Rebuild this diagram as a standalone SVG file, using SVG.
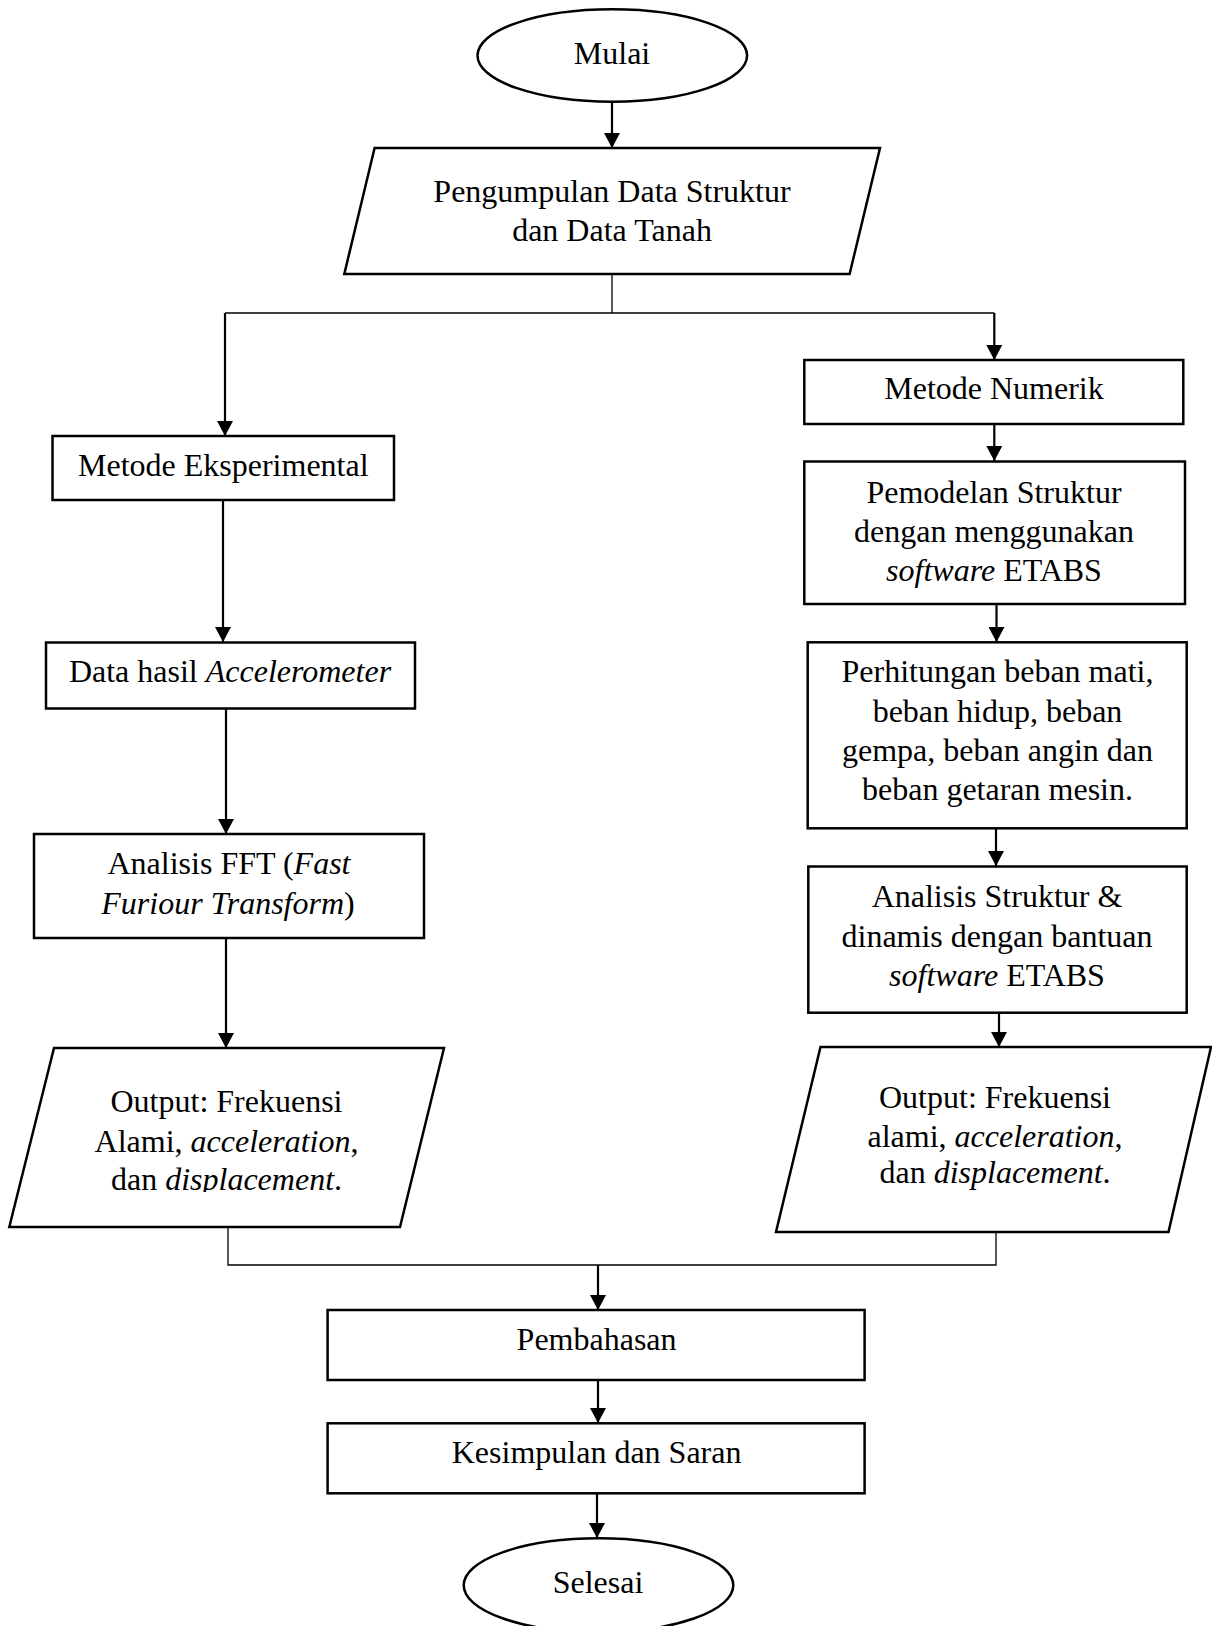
<svg xmlns="http://www.w3.org/2000/svg" width="1212" height="1626" viewBox="0 0 1212 1626">
<style>
.shape{fill:#fff;stroke:#000;stroke-width:2.5}
.arrow{fill:none;stroke:#000;stroke-width:2.2;marker-end:url(#ah)}
.line{fill:none;stroke:#000;stroke-width:1.3}
text{font-family:"Liberation Serif","Times New Roman",serif;font-size:32px;fill:#000;text-anchor:middle}
.i{font-style:italic}
</style>
<defs>
<marker id="ah" markerUnits="userSpaceOnUse" markerWidth="16" markerHeight="16" refX="15" refY="8" orient="auto">
<path d="M0,0 L15,8 L0,16 z" fill="#000"/>
</marker>
<clipPath id="clipOutL"><rect x="0" y="1040" width="460" height="152"/></clipPath>
</defs>
<rect width="1212" height="1626" fill="#fff"/>
<g id="connectors">
<line class="arrow" x1="612" y1="102" x2="612" y2="148"/>
<polyline class="line" points="612,274 612,313"/>
<polyline class="line" points="225,313 994.3,313"/>
<line class="arrow" x1="225" y1="313" x2="225" y2="436"/>
<line class="arrow" x1="994.3" y1="313" x2="994.3" y2="360"/>
<line class="arrow" x1="223" y1="500" x2="223" y2="642"/>
<line class="arrow" x1="226" y1="709" x2="226" y2="834"/>
<line class="arrow" x1="226" y1="938" x2="226" y2="1048"/>
<line class="arrow" x1="994.3" y1="424" x2="994.3" y2="461"/>
<line class="arrow" x1="996.5" y1="604" x2="996.5" y2="642"/>
<line class="arrow" x1="996" y1="828" x2="996" y2="866"/>
<line class="arrow" x1="999" y1="1013" x2="999" y2="1047"/>
<polyline class="line" points="228,1227 228,1265 996,1265 996,1232"/>
<line class="arrow" x1="598" y1="1265" x2="598" y2="1310"/>
<line class="arrow" x1="598" y1="1380" x2="598" y2="1423"/>
<line class="arrow" x1="597" y1="1493" x2="597" y2="1538"/>
</g>
<g id="mulai">
<ellipse class="shape" cx="612.3" cy="55.5" rx="134.8" ry="46.2"/>
<text x="612" y="64">Mulai</text>
</g>
<g id="pengumpulan">
<polygon class="shape" points="374.6,148 880,148 849.6,274 344.3,274"/>
<text x="612" y="201.5">Pengumpulan Data Struktur</text>
<text x="612" y="240.5">dan Data Tanah</text>
</g>
<g id="eksperimental">
<rect class="shape" x="52.5" y="436" width="341.5" height="64"/>
<text x="223.3" y="475.5">Metode Eksperimental</text>
</g>
<g id="accelerometer">
<rect class="shape" x="46" y="642.5" width="369" height="66"/>
<text x="230" y="682">Data hasil <tspan class="i">Accelerometer</tspan></text>
</g>
<g id="fft">
<rect class="shape" x="34" y="834" width="390" height="104"/>
<text x="229" y="874">Analisis FFT (<tspan class="i">Fast</tspan></text>
<text x="228" y="914"><tspan class="i">Furiour Transform</tspan>)</text>
</g>
<g id="output-eksperimental">
<polygon class="shape" points="54,1048 444,1048 400,1227 9.3,1227"/>
<text x="226.5" y="1111.5">Output: Frekuensi</text>
<text x="226.5" y="1151.5">Alami, <tspan class="i">acceleration</tspan>,</text>
<text x="226.5" y="1190" clip-path="url(#clipOutL)">dan <tspan class="i">displacement</tspan>.</text>
</g>
<g id="numerik">
<rect class="shape" x="804.3" y="360" width="379" height="64"/>
<text x="994" y="399.3">Metode Numerik</text>
</g>
<g id="pemodelan">
<rect class="shape" x="804.3" y="461.5" width="380.7" height="142.5"/>
<text x="994" y="502.7">Pemodelan Struktur</text>
<text x="994" y="541.7">dengan menggunakan</text>
<text x="994" y="580.7"><tspan class="i">software</tspan> ETABS</text>
</g>
<g id="perhitungan">
<rect class="shape" x="807.7" y="642.3" width="379" height="186"/>
<text x="997.5" y="682.3">Perhitungan beban mati,</text>
<text x="997.5" y="721.5">beban hidup, beban</text>
<text x="997.5" y="760.7">gempa, beban angin dan</text>
<text x="997.5" y="800">beban getaran mesin.</text>
</g>
<g id="analisis-struktur">
<rect class="shape" x="808.3" y="866.5" width="378.4" height="146.2"/>
<text x="997" y="907.3">Analisis Struktur &amp;</text>
<text x="997" y="946.7">dinamis dengan bantuan</text>
<text x="997" y="985.7"><tspan class="i">software</tspan> ETABS</text>
</g>
<g id="output-numerik">
<polygon class="shape" points="820.5,1047 1211,1047 1168.5,1232 776,1232"/>
<text x="995" y="1108.3">Output: Frekuensi</text>
<text x="995" y="1146.7">alami, <tspan class="i">acceleration</tspan>,</text>
<text x="995" y="1183.3">dan <tspan class="i">displacement</tspan>.</text>
</g>
<g id="pembahasan">
<rect class="shape" x="327.6" y="1310" width="537" height="70"/>
<text x="596.6" y="1350">Pembahasan</text>
</g>
<g id="kesimpulan">
<rect class="shape" x="327.6" y="1423.3" width="537" height="70"/>
<text x="596.6" y="1462.7">Kesimpulan dan Saran</text>
</g>
<g id="selesai">
<ellipse class="shape" cx="598.5" cy="1585.3" rx="134.8" ry="47"/>
<text x="598" y="1592.7">Selesai</text>
</g>
</svg>
